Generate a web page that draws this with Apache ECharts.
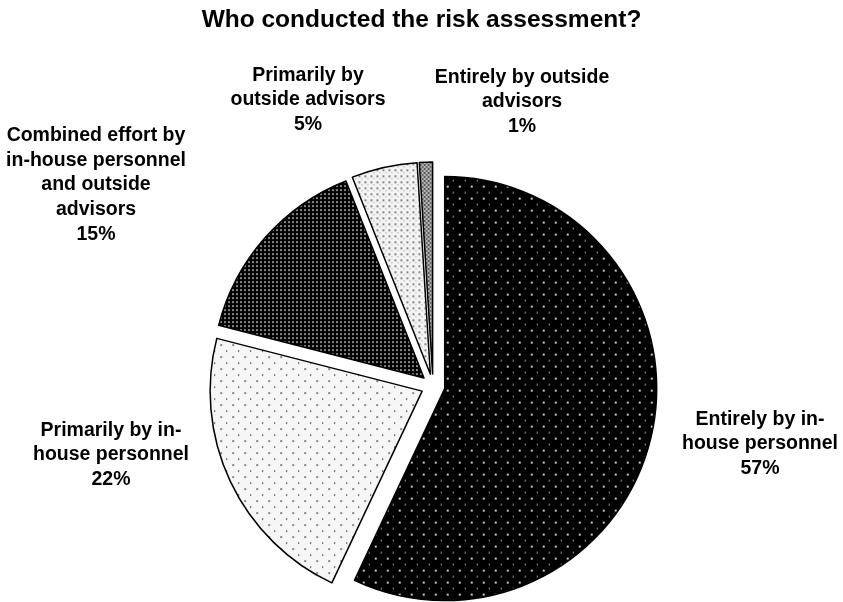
<!DOCTYPE html>
<html>
<head>
<meta charset="utf-8">
<script src="https://cdn.jsdelivr.net/npm/echarts@6/dist/echarts.min.js"></script>
<style>html,body{margin:0;padding:0;background:#fff}#c{width:843px;height:602px}</style>
</head>
<body>
<div id="c"></div>
<script>
var titleText = 'Who conducted the risk assessment?';
var categories = [
  'Entirely by in-\nhouse personnel',
  'Primarily by in-\nhouse personnel',
  'Combined effort by\nin-house personnel\nand outside\nadvisors',
  'Primarily by\noutside advisors',
  'Entirely by outside\nadvisors'
];
var values = [57, 22, 15, 5, 1];

// label anchor positions (layout only)
var labelPos = [[760, 444], [111, 455], [96, 185], [308, 100], [522, 102]];

function makePattern(size, bg, dots) {
  var cv = document.createElement('canvas');
  cv.width = size; cv.height = size;
  var ctx = cv.getContext('2d');
  ctx.fillStyle = bg; ctx.fillRect(0, 0, size, size);
  dots.forEach(function (d) { ctx.fillStyle = d[4]; ctx.fillRect(d[0], d[1], d[2], d[3]); });
  return cv;
}
var patterns = [
  makePattern(12, '#000', [[3, 3, 2, 2, '#c8c8c8'], [9, 9, 1, 2, '#9a9a9a']]),
  makePattern(12, '#f6f6f6', [[3, 3, 2, 2, '#888'], [9, 9, 1, 2, '#555']]),
  makePattern(4, '#000', [[1, 1, 2, 2, '#858585']]),
  makePattern(6, '#f3f3f3', [[1, 1, 2, 2, '#888'], [4, 4, 1, 1, '#999']]),
  makePattern(4, '#bbb', [[0, 0, 2, 2, '#555'], [2, 2, 2, 2, '#666']])
];

var data = categories.map(function (n, i) {
  return { name: n, value: values[i], selected: true,
    itemStyle: { color: { image: patterns[i], repeat: 'repeat' } } };
});

var labelFont = 'bold 19.5px "Liberation Sans", Arial, sans-serif';
var labels = categories.map(function (n, i) {
  return {
    type: 'text', x: labelPos[i][0], y: labelPos[i][1], silent: true,
    style: {
      text: n + '\n' + values[i] + '%',
      font: labelFont, fill: '#000', lineHeight: 24.8,
      align: 'center', verticalAlign: 'middle'
    }
  };
});

var chart = echarts.init(document.getElementById('c'), null, { renderer: 'canvas' });
chart.setOption({
  animation: false,
  backgroundColor: '#fff',
  title: {
    text: titleText, left: 'center', top: 3,
    textStyle: { fontFamily: 'Liberation Sans', fontWeight: 'bold', fontSize: 24.5, color: '#000' }
  },
  graphic: labels,
  series: [{
    type: 'pie',
    center: [433, 386],
    radius: 212,
    startAngle: 90,
    clockwise: true,
    selectedMode: 'multiple',
    selectedOffset: 12,
    silent: true,
    data: data,
    itemStyle: { borderColor: '#000', borderWidth: 1.5 },
    label: { show: false },
    labelLine: { show: false },
    emphasis: { disabled: true }
  }]
});
</script>
</body>
</html>
